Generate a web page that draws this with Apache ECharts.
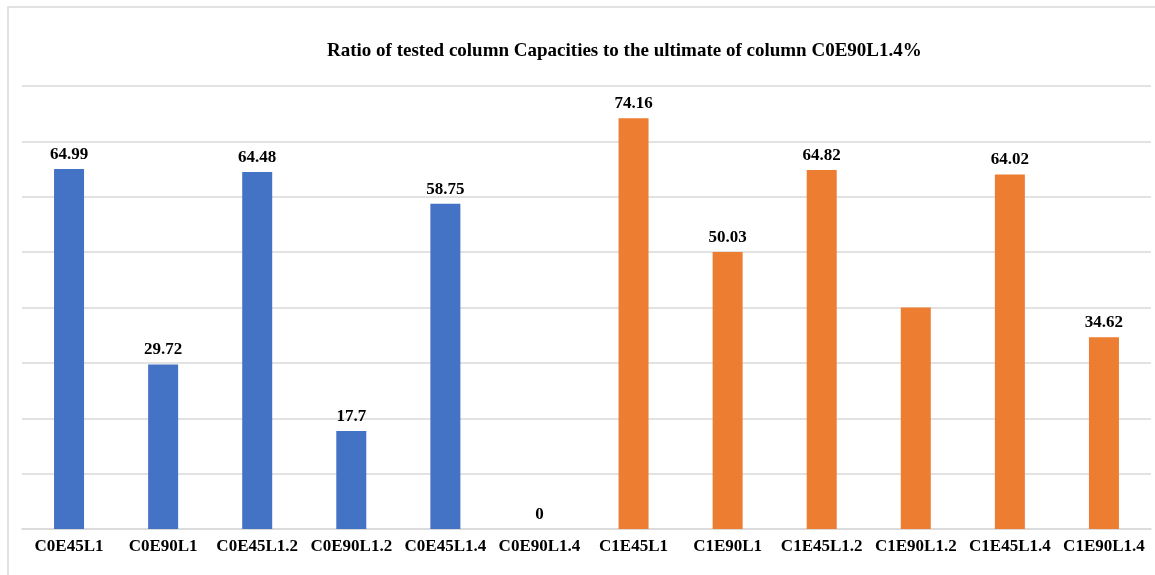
<!DOCTYPE html>
<html>
<head>
<meta charset="utf-8">
<script src="https://cdn.jsdelivr.net/npm/echarts@6/dist/echarts.min.js"></script>
<style>
  html, body { margin: 0; padding: 0; background: #fff; }
  #chart { width: 1155px; height: 575px; }
</style>
</head>
<body>
<div id="chart"></div>
<script>
// Column specimens along the x axis
const categories = ['C0E45L1', 'C0E90L1', 'C0E45L1.2', 'C0E90L1.2', 'C0E45L1.4', 'C0E90L1.4',
                    'C1E45L1', 'C1E90L1', 'C1E45L1.2', 'C1E90L1.2', 'C1E45L1.4', 'C1E90L1.4'];
// Capacity ratios (%) for the C0 group and the C1 group; '-' leaves a slot empty
const c0Values = [64.99, 29.72, 64.48, 17.7, 58.75, 0, '-', '-', '-', '-', '-', '-'];
const c1Values = ['-', '-', '-', '-', '-', '-', 74.16, 50.03, 64.82, 40, 64.02, 34.62];
// Bars whose value is not printed
const unlabeled = ['C1E90L1.2'];

const serif = '"Liberation Serif", "Times New Roman", serif';

function toData(values) {
  return values.map((v, i) => unlabeled.includes(categories[i])
    ? { value: v, label: { show: false } }
    : v);
}

const labelStyle = {
  show: true,
  position: 'top',
  distance: 6,
  fontFamily: serif,
  fontWeight: 'bold',
  fontSize: 17,
  color: '#000'
};

const chart = echarts.init(document.getElementById('chart'), null, { renderer: 'canvas' });
chart.setOption({
  backgroundColor: '#fff',
  animation: false,
  title: {
    text: 'Ratio of tested column Capacities to the ultimate of column C0E90L1.4%',
    left: 322,
    top: 37,
    textStyle: { fontFamily: serif, fontWeight: 'bold', fontSize: 19, color: '#000' }
  },
  graphic: [{
    type: 'rect',
    shape: { x: 8, y: 7, width: 1200, height: 620 },
    style: { fill: 'none', stroke: '#d9d9d9', lineWidth: 1.5 },
    silent: true,
    z: -1
  }],
  grid: { left: 22, right: 4, top: 86, bottom: 46, containLabel: false },
  xAxis: {
    type: 'category',
    data: categories,
    axisLine: { lineStyle: { color: '#d9d9d9', width: 1.5 } },
    axisTick: { show: false },
    axisLabel: {
      interval: 0,
      margin: 9,
      fontFamily: serif,
      fontWeight: 'bold',
      fontSize: 17,
      color: '#000'
    }
  },
  yAxis: {
    type: 'value',
    min: 0,
    max: 80,
    interval: 10,
    axisLabel: { show: false },
    axisLine: { show: false },
    axisTick: { show: false },
    splitLine: { lineStyle: { color: '#d9d9d9', width: 1.5 } }
  },
  series: [
    {
      name: 'C0',
      type: 'bar',
      data: toData(c0Values),
      barWidth: 30,
      barGap: '-100%',
      itemStyle: { color: '#4472C4' },
      label: labelStyle
    },
    {
      name: 'C1',
      type: 'bar',
      data: toData(c1Values),
      barWidth: 30,
      barGap: '-100%',
      itemStyle: { color: '#ED7D31' },
      label: labelStyle
    }
  ]
});
</script>
</body>
</html>
